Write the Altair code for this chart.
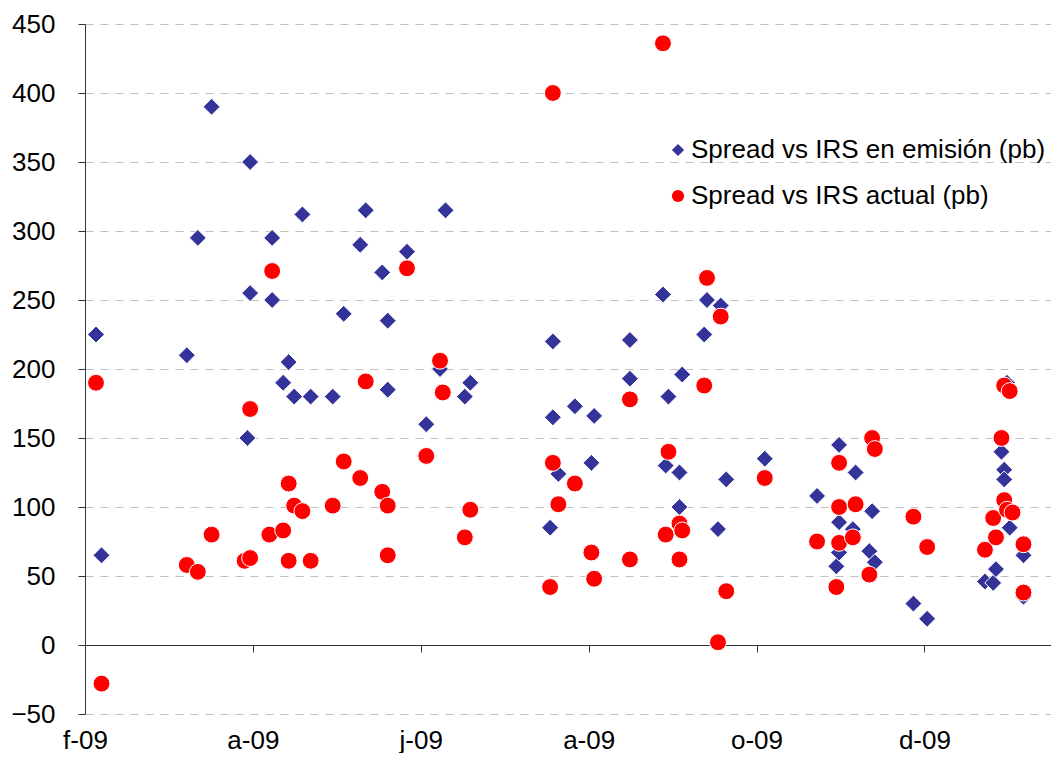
import altair as alt
import pandas as pd

series_names = ["Spread vs IRS en emisión (pb)", "Spread vs IRS actual (pb)"]
series_colors = ["#333399", "#FF0000"]
series_shapes = ["diamond", "circle"]

emision_fechas = [
    "2009-02-05", "2009-02-07", "2009-03-10", "2009-03-14", "2009-03-19", "2009-04-01",
    "2009-04-02", "2009-04-02", "2009-04-10", "2009-04-10", "2009-04-14", "2009-04-16",
    "2009-04-18", "2009-04-21", "2009-04-24", "2009-05-02", "2009-05-06", "2009-05-12",
    "2009-05-14", "2009-05-20", "2009-05-22", "2009-05-22", "2009-05-29", "2009-06-05",
    "2009-06-10", "2009-06-12", "2009-06-19", "2009-06-21", "2009-07-20", "2009-07-21",
    "2009-07-21", "2009-07-23", "2009-07-29", "2009-08-04", "2009-08-05", "2009-08-18",
    "2009-08-18", "2009-08-30", "2009-08-31", "2009-09-01", "2009-09-05", "2009-09-05",
    "2009-09-06", "2009-09-14", "2009-09-15", "2009-09-19", "2009-09-20", "2009-09-22",
    "2009-10-06", "2009-10-25", "2009-11-01", "2009-11-02", "2009-11-02", "2009-11-02",
    "2009-11-07", "2009-11-08", "2009-11-13", "2009-11-14", "2009-11-15", "2009-11-29",
    "2009-12-04", "2009-12-25", "2009-12-28", "2009-12-29", "2009-12-31", "2010-01-01",
    "2010-01-01", "2010-01-02", "2010-01-03", "2010-01-08", "2010-01-08",
]
emision_pb = [
    225, 65, 210, 295, 390, 150,
    350, 255, 295, 250, 190, 205,
    180, 312, 180, 180, 240, 290,
    315, 270, 235, 185, 285, 160,
    200, 315, 180, 190, 85, 220,
    165, 124, 173, 132, 166, 221,
    193, 254, 130, 180, 125, 100,
    196, 225, 250, 84, 246, 120,
    135, 108, 57, 67, 145, 89,
    84, 125, 68, 97, 60, 30,
    19, 46, 45, 55, 140, 127,
    120, 190, 85, 65, 35,
]

actual_fechas = [
    "2009-02-05", "2009-02-07", "2009-03-10", "2009-03-14", "2009-03-19", "2009-03-31",
    "2009-04-02", "2009-04-02", "2009-04-09", "2009-04-10", "2009-04-14", "2009-04-16",
    "2009-04-16", "2009-04-18", "2009-04-21", "2009-04-24", "2009-05-02", "2009-05-06",
    "2009-05-12", "2009-05-14", "2009-05-20", "2009-05-22", "2009-05-22", "2009-05-29",
    "2009-06-05", "2009-06-10", "2009-06-11", "2009-06-19", "2009-06-21", "2009-07-20",
    "2009-07-21", "2009-07-21", "2009-07-23", "2009-07-29", "2009-08-04", "2009-08-05",
    "2009-08-18", "2009-08-18", "2009-08-30", "2009-08-31", "2009-09-01", "2009-09-05",
    "2009-09-06", "2009-09-05", "2009-09-14", "2009-09-15", "2009-09-19", "2009-09-20",
    "2009-09-22", "2009-10-06", "2009-10-25", "2009-11-01", "2009-11-02", "2009-11-02",
    "2009-11-02", "2009-11-07", "2009-11-08", "2009-11-13", "2009-11-14", "2009-11-15",
    "2009-11-29", "2009-12-04", "2009-12-25", "2009-12-28", "2009-12-29", "2009-12-31",
    "2010-01-01", "2010-01-01", "2010-01-02", "2010-01-03", "2010-01-04", "2010-01-08",
    "2010-01-08",
]
actual_pb = [
    190, -28, 58, 53, 80, 61,
    63, 171, 80, 271, 83, 117,
    61, 101, 97, 61, 101, 133,
    121, 191, 111, 101, 65, 273,
    137, 206, 183, 78, 98, 42,
    400, 132, 102, 117, 67, 48,
    178, 62, 436, 80, 140, 88,
    83, 62, 188, 266, 2, 238,
    39, 121, 75, 42, 100, 74,
    132, 78, 102, 51, 150, 142,
    93, 71, 69, 92, 78, 150,
    105, 188, 98, 184, 96, 73,
    38,
]

x_origin = "2009-02-01"
x_end = "2010-01-18"
x_tick_fechas = ["2009-02-01", "2009-04-03", "2009-06-03", "2009-08-03", "2009-10-03", "2009-12-03"]
x_tick_labels = ["f-09", "a-09", "j-09", "a-09", "o-09", "d-09"]
y_ticks = [-50, 0, 50, 100, 150, 200, 250, 300, 350, 400, 450]

origin = pd.Timestamp(x_origin)


def to_days(fechas):
    return [(pd.Timestamp(f) - origin).days for f in fechas]


df = pd.DataFrame({
    "dia": to_days(emision_fechas) + to_days(actual_fechas),
    "pb": emision_pb + actual_pb,
    "serie": [series_names[0]] * len(emision_pb) + [series_names[1]] * len(actual_pb),
})

tick_days = to_days(x_tick_fechas)
label_expr = "[" + ",".join("'%s'" % s for s in x_tick_labels) + "][indexof([" + \
    ",".join(str(d) for d in tick_days) + "], datum.value)]"

FONT = "Liberation Sans"

legend = alt.Legend(
    orient="none", legendX=580, legendY=113, title=None,
    labelFontSize=26, labelFont=FONT, labelColor="black", labelLimit=600,
    symbolSize=150, symbolStrokeWidth=0, rowPadding=20, labelOffset=0, padding=0,
)

chart = alt.Chart(df).mark_point(
    filled=True, opacity=1, stroke="white", strokeWidth=1, size=285
).encode(
    x=alt.X(
        "dia:Q",
        scale=alt.Scale(domain=[0, to_days([x_end])[0]], nice=False, zero=False),
        axis=alt.Axis(
            values=tick_days, labelExpr=label_expr, orient="bottom", offset=-69,
            title=None, grid=False, domainColor="#333333", tickColor="#333333",
            tickSize=7, labelPadding=75, labelFontSize=26, labelFont=FONT,
            labelColor="black", labelFlush=False, labelOverlap=False,
        ),
    ),
    y=alt.Y(
        "pb:Q",
        scale=alt.Scale(domain=[-50, 450], nice=False, zero=False),
        axis=alt.Axis(
            values=y_ticks, title=None, grid=True, gridColor="#c0c0c0",
            gridDash=[8, 7],
            gridOpacity={"condition": {"test": "datum.value === 0", "value": 0}, "value": 1},
            domainColor="#333333", tickColor="#333333", tickSize=7,
            labelPadding=23, labelFontSize=26, labelFont=FONT, labelColor="black",
            labelFlush=False, labelOverlap=False,
        ),
    ),
    color=alt.Color("serie:N", scale=alt.Scale(domain=series_names, range=series_colors), legend=legend),
    shape=alt.Shape("serie:N", scale=alt.Scale(domain=series_names, range=series_shapes), legend=legend),
).properties(
    width=966, height=690,
    padding={"left": 2, "top": 3, "right": 0, "bottom": 0},
).configure(font=FONT).configure_view(strokeWidth=0)

chart.save("out.html", embed_options={"renderer": "svg", "actions": False})
